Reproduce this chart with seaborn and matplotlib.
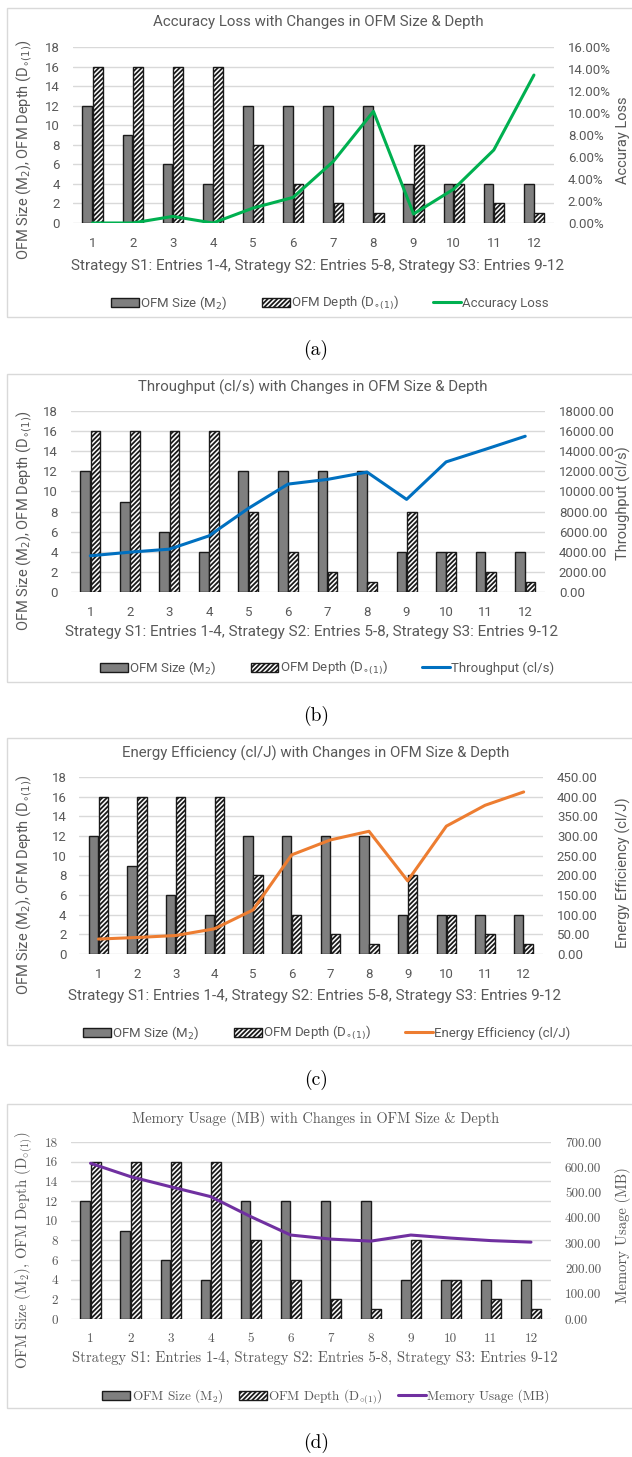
"""Four stacked Excel-style combo charts: OFM size/depth bars with a metric line."""

import matplotlib.pyplot as plt
import numpy as np
import pandas as pd
import seaborn as sns
from matplotlib.lines import Line2D
from matplotlib.patches import Patch, Rectangle
from matplotlib.ticker import FuncFormatter, MultipleLocator

# ---- data -------------------------------------------------------------
entries = list(range(1, 13))
ofm_size = [12, 9, 6, 4, 12, 12, 12, 12, 4, 4, 4, 4]
ofm_depth = [16, 16, 16, 16, 8, 4, 2, 1, 8, 4, 2, 1]

accuracy_loss = [0.0, 0.0, 0.006, 0.0, 0.0136, 0.0233, 0.056, 0.1015, 0.0082, 0.0308, 0.0664, 0.1345]
throughput = [3600, 3960, 4260, 5580, 8320, 10730, 11200, 11920, 9210, 12940, 14200, 15490]
energy_eff = [38, 42, 47, 64, 112, 252, 290, 312, 186, 325, 378, 412]
memory_mb = [616, 563, 523, 484, 405, 332, 316, 308, 332, 320, 310, 304]

size_label = r"OFM Size (M$_2$)"
depth_label = r"OFM Depth (D$_{\circ(1)}$)"
left_label = r"OFM Size (M$_2$), OFM Depth (D$_{\circ(1)}$)"
x_label = "Strategy S1: Entries 1-4, Strategy S2: Entries 5-8, Strategy S3: Entries 9-12"

W, H = 632, 1457
GRAY_TXT = "#595959"
BAR_GRAY = "#7f7f7f"
EDGE = "#1a1a1a"
HATCH = "///////"

sns.set_theme(style="white")
plt.rcParams["hatch.linewidth"] = 1.3
plt.rcParams["hatch.color"] = EDGE

df_bars = pd.DataFrame({
    "entry": entries * 2,
    "value": ofm_size + ofm_depth,
    "series": ["size"] * len(entries) + ["depth"] * len(entries),
})

# font sizes per family: (title, x label, side labels, ticks)
sizes = {"Roboto": (10.8, 11.0, 10.5, 9.5), "cmr10": (10.4, 10.5, 10.6, 9.5)}

panels = [
    dict(title="Accuracy Loss with Changes in OFM Size & Depth", values=accuracy_loss,
         color="#00b050", name="Accuracy Loss", right="Accuray Loss",
         rmax=0.16, rstep=0.02, fmt=lambda v, p: f"{v * 100:.2f}%",
         box=(72.5, 47, 554, 223), title_y=22, xl_y=266, leg_y=303, frame=(8, 317),
         cap="(a)", cap_y=350, lab_y=150, rlab_y=140, leg_x=330, font="Roboto", colsp=2.6),
    dict(title="Throughput (cl/s) with Changes in OFM Size & Depth", values=throughput,
         color="#0070c0", name="Throughput (cl/s)", right="Throughput (cl/s)",
         rmax=18000, rstep=2000, fmt=lambda v, p: f"{v:.2f}",
         box=(70.5, 411, 545, 592), title_y=387, xl_y=632, leg_y=668, frame=(374, 682),
         cap="(b)", cap_y=716, lab_y=521, rlab_y=503, leg_x=327, font="Roboto", colsp=2.6),
    dict(title="Energy Efficiency (cl/J) with Changes in OFM Size & Depth", values=energy_eff,
         color="#ed7d31", name="Energy Efficiency (cl/J)", right="Energy Efficiency (cl/J)",
         rmax=450, rstep=50, fmt=lambda v, p: f"{v:.2f}",
         box=(79, 777, 543, 954), title_y=753, xl_y=996, leg_y=1033, frame=(738, 1045),
         cap="(c)", cap_y=1080, lab_y=885, rlab_y=873, leg_x=327, font="Roboto", colsp=2.6),
    dict(title="Memory Usage (MB) with Changes in OFM Size & Depth", values=memory_mb,
         color="#7030a0", name="Memory Usage (MB)", right="Memory Usage (MB)",
         rmax=700, rstep=100, fmt=lambda v, p: f"{v:.2f}",
         box=(70.5, 1142, 551, 1319), title_y=1119, xl_y=1358, leg_y=1397, frame=(1104, 1408),
         cap="(d)", cap_y=1443, lab_y=1250, rlab_y=1235, leg_x=326, font="cmr10", colsp=1.2),
]

fig = plt.figure(figsize=(W / 100, H / 100), dpi=100)


def fx(x):
    return x / W


def fy(y):
    return 1 - y / H


for p in panels:
    l, t, r, b = p["box"]
    fam = p["font"]
    fs_title, fs_xl, fs_side, fs_tick = sizes[fam]
    mfam = "cm" if fam == "cmr10" else "dejavusans"
    txt = dict(color=GRAY_TXT, family=fam, math_fontfamily=mfam)

    # light frame around the chart
    ft, fb = p["frame"]
    fig.patches.append(Rectangle((fx(7), fy(fb)), fx(640), (fb - ft) / H, transform=fig.transFigure,
                                 facecolor="none", edgecolor="#d9d9d9", linewidth=1.0, zorder=0))

    ax = fig.add_axes([fx(l), fy(b), (r - l) / W, (b - t) / H])
    sns.barplot(data=df_bars, x="entry", y="value", hue="series", palette=[BAR_GRAY, "white"],
                width=0.52, gap=0.06, edgecolor=EDGE, linewidth=1.0, ax=ax, legend=False, zorder=2)
    for patch in ax.containers[1]:
        patch.set_hatch(HATCH)

    ax.set_ylim(0, 18)
    ax.yaxis.set_major_locator(MultipleLocator(2))
    ax.grid(axis="y", color="#d9d9d9", linewidth=1.0, zorder=0)
    ax.set_axisbelow(True)
    ax.set_xlabel("")
    ax.set_ylabel("")
    ax.tick_params(axis="both", length=0, labelsize=fs_tick, colors=GRAY_TXT)
    ax.tick_params(axis="x", pad=10)
    ax.tick_params(axis="y", pad=9)
    for lab in ax.get_xticklabels() + ax.get_yticklabels():
        lab.set_family(fam)
    sns.despine(ax=ax, left=True, bottom=True)

    ax2 = ax.twinx()
    sns.lineplot(x=np.arange(len(entries)), y=p["values"], ax=ax2, color=p["color"],
                 linewidth=2.2, zorder=3)
    ax2.set_ylim(0, p["rmax"])
    ax2.yaxis.set_major_locator(MultipleLocator(p["rstep"]))
    ax2.yaxis.set_major_formatter(FuncFormatter(p["fmt"]))
    ax2.tick_params(axis="y", length=0, labelsize=fs_tick, colors=GRAY_TXT, pad=10)
    for lab in ax2.get_yticklabels():
        lab.set_family(fam)
    ax2.grid(False)
    sns.despine(ax=ax2, left=True, bottom=True, right=True)
    ax.set_xlim(-0.5, len(entries) - 0.5)

    cx = (l + r) / 2
    fig.text(fx(cx + 5), fy(p["title_y"]), p["title"], ha="center", va="center",
             fontsize=fs_title, **txt)
    fig.text(fx(cx + 4), fy(p["xl_y"]), x_label, ha="center", va="center", fontsize=fs_xl, **txt)
    fig.text(fx(24), fy(p["lab_y"]), left_label, ha="center", va="center", rotation=90,
             fontsize=fs_side, **txt)
    fig.text(fx(623), fy(p["rlab_y"]), p["right"], ha="center", va="center", rotation=90,
             fontsize=fs_side, **txt)

    handles = [
        Patch(facecolor=BAR_GRAY, edgecolor=EDGE, linewidth=1.0),
        Patch(facecolor="white", edgecolor=EDGE, hatch=HATCH, linewidth=1.0),
        Line2D([], [], color=p["color"], linewidth=2.2),
    ]
    leg = fig.legend(handles, [size_label, depth_label, p["name"]], loc="center",
                     bbox_to_anchor=(fx(p["leg_x"]), fy(p["leg_y"])), ncol=3, frameon=False,
                     handlelength=2.1, handleheight=0.75, handletextpad=0.1,
                     columnspacing=p["colsp"], fontsize=9.5)
    for tx in leg.get_texts():
        tx.set_color(GRAY_TXT)
        tx.set_family(fam)
        tx.set_math_fontfamily(mfam)

    fig.text(0.5, fy(p["cap_y"]), p["cap"], ha="center", va="center", fontsize=14,
             family="cmr10", color="black")

fig.savefig("out.png", dpi=100)
